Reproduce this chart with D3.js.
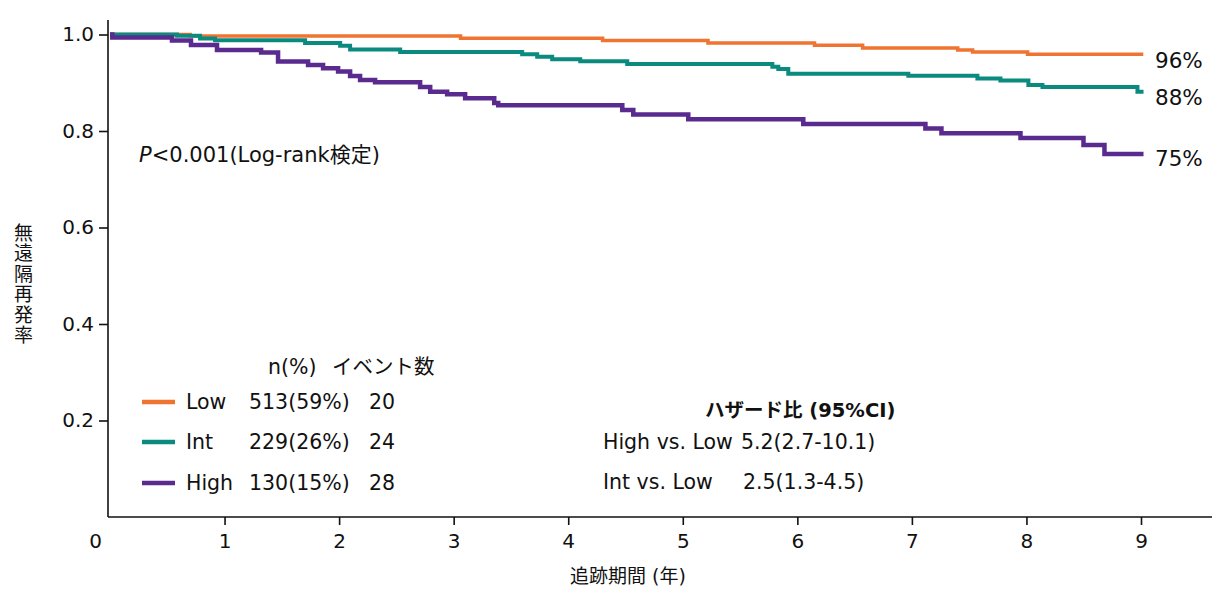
<!DOCTYPE html>
<meta charset="utf-8">
<head>
<style>
body { margin: 0; background: #fff; }
text { font-family: "DejaVu Sans", "Noto Sans CJK JP", sans-serif; fill: #111; }
.tick text { font-size: 20px; }
.domain, .tick line { stroke: #111; stroke-width: 1.6px; }
.km { fill: none; stroke-linejoin: miter; }
</style>
</head>
<body>
<script src="https://d3js.org/d3.v7.min.js"></script>
<script>

// groups and summary numbers
var groups = ["Low", "Int", "High"];
var colors = ["#ef7431", "#0b8a80", "#5a2a8e"];
var nLabels = ["513(59%)", "229(26%)", "130(15%)"];
var events = ["20", "24", "28"];
var endLabels = ["96%", "88%", "75%"];

// Kaplan-Meier step points [years, survival]
var lowCurve = [[0, 1.0], [0.70, 0.997], [3.06, 0.992], [4.30, 0.9876], [5.22, 0.9824],
  [6.15, 0.9776], [6.57, 0.972], [7.40, 0.968], [7.53, 0.9637], [8.01, 0.959], [9.02, 0.959]];
var intCurve = [[0, 1.0], [0.585, 0.9975], [0.786, 0.9917], [0.917, 0.988], [1.703, 0.9824],
  [2.009, 0.9768], [2.096, 0.969], [2.533, 0.9637], [3.598, 0.959], [3.729, 0.954],
  [3.860, 0.9488], [4.105, 0.9447], [4.515, 0.9389], [5.782, 0.9333], [5.834, 0.9285],
  [5.921, 0.9188], [6.969, 0.9144], [7.572, 0.9088], [7.773, 0.9047], [8.017, 0.8953],
  [8.140, 0.8912], [8.969, 0.8815], [9.022, 0.8815]];
var highCurve = [[0, 1.0], [0.02, 0.994], [0.541, 0.9876], [0.707, 0.9782], [0.934, 0.9679],
  [1.319, 0.9627], [1.467, 0.944], [1.729, 0.9368], [1.860, 0.930], [1.991, 0.9233],
  [2.096, 0.914], [2.183, 0.9057], [2.314, 0.9009], [2.707, 0.8912], [2.795, 0.8815],
  [2.943, 0.8763], [3.100, 0.8678], [3.354, 0.858], [3.389, 0.8533], [4.472, 0.8435],
  [4.568, 0.834], [5.048, 0.8242], [6.052, 0.8145], [7.118, 0.805], [7.258, 0.7952],
  [7.948, 0.7855], [8.498, 0.771], [8.681, 0.7523], [9.022, 0.7523]];
var curves = [lowCurve, intCurve, highCurve];

var xTicks = [0, 1, 2, 3, 4, 5, 6, 7, 8, 9];
var yTicks = [0.2, 0.4, 0.6, 0.8, 1.0];

var hrTitle = "ハザード比 (95%CI)";
var hrRows = [["High vs. Low", "5.2(2.7-10.1)"], ["Int vs. Low", "2.5(1.3-4.5)"]];

var W = 1214, H = 590;
var svg = d3.select("body").append("svg").attr("width", W).attr("height", H);

var x = d3.scaleLinear().domain([0, 9]).range([110, 1141]);
var y = d3.scaleLinear().domain([0, 1]).range([517, 34.5]);

// axes
var xAxis = svg.append("g")
    .attr("transform", "translate(0,517)")
    .call(d3.axisBottom(x).tickValues(xTicks).tickSize(8).tickPadding(9).tickSizeOuter(0)
      .tickFormat(d3.format("d")));
xAxis.select(".domain").attr("d", "M108,0H1212");
xAxis.selectAll(".tick").filter(function(d) { return d === 0; })
    .each(function() {
      d3.select(this).select("line").remove();
      d3.select(this).select("text").attr("dx", -15);
    });

var yAxis = svg.append("g")
    .attr("transform", "translate(108,0)")
    .call(d3.axisLeft(y).tickValues(yTicks).tickSize(8).tickPadding(6).tickSizeOuter(0)
      .tickFormat(d3.format(".1f")));
yAxis.select(".domain").attr("d", "M0,517V20");
yAxis.selectAll(".tick line").attr("x2", -9);

// axis titles
svg.append("text")
    .attr("x", 628).attr("y", 583)
    .attr("text-anchor", "middle")
    .style("font-size", "19px")
    .text("追跡期間 (年)");

svg.append("text")
    .attr("x", 22).attr("y", 223)
    .style("writing-mode", "vertical-rl")
    .style("font-size", "19px")
    .style("letter-spacing", "1.5px")
    .text("無遠隔再発率");

// curves
var line = d3.line()
    .x(function(d) { return x(d[0]); })
    .y(function(d) { return y(d[1]); })
    .curve(d3.curveStepAfter);

var widths = [3.5, 4, 4.5];
curves.forEach(function(c, i) {
  svg.append("path")
      .datum(c)
      .attr("class", "km")
      .attr("stroke", colors[i])
      .attr("stroke-width", widths[i])
      .attr("d", line);
});

// end percentages
var endY = [60, 97, 158];
endLabels.forEach(function(t, i) {
  svg.append("text")
      .attr("x", 1155).attr("y", endY[i])
      .attr("dy", "0.36em")
      .style("font-size", "21.5px")
      .text(t);
});

// p-value
var p = svg.append("text").attr("x", 139).attr("y", 162).style("font-size", "21px");
p.append("tspan").style("font-style", "italic").text("P");
p.append("tspan").text("<0.001(Log-rank検定)");

// legend
svg.append("text").attr("x", 268).attr("y", 374).style("font-size", "20.5px").text("n(%)");
svg.append("text").attr("x", 332).attr("y", 374).style("font-size", "20.5px").text("イベント数");

var rowY = [402, 442, 483];
groups.forEach(function(g, i) {
  svg.append("line")
      .attr("x1", 142).attr("x2", 175)
      .attr("y1", rowY[i]).attr("y2", rowY[i])
      .attr("stroke", colors[i]).attr("stroke-width", 4.5);
  svg.append("text").attr("x", 186).attr("y", rowY[i]).attr("dy", "0.36em")
      .style("font-size", "20.5px").text(g);
  svg.append("text").attr("x", 249).attr("y", rowY[i]).attr("dy", "0.36em")
      .style("font-size", "20.5px").text(nLabels[i]);
  svg.append("text").attr("x", 369).attr("y", rowY[i]).attr("dy", "0.36em")
      .style("font-size", "20.5px").text(events[i]);
});

// hazard ratio table
svg.append("text").attr("x", 705).attr("y", 410).attr("dy", "0.36em")
    .style("font-size", "19.5px").style("font-weight", "bold").text(hrTitle);
var hrY = [442, 482];
hrRows.forEach(function(r, i) {
  svg.append("text").attr("x", 603).attr("y", hrY[i]).attr("dy", "0.36em")
      .style("font-size", "20.5px").text(r[0]);
  svg.append("text").attr("x", i === 0 ? 741 : 743).attr("y", hrY[i]).attr("dy", "0.36em")
      .style("font-size", "20.5px").text(r[1]);
});

</script>
</body>
